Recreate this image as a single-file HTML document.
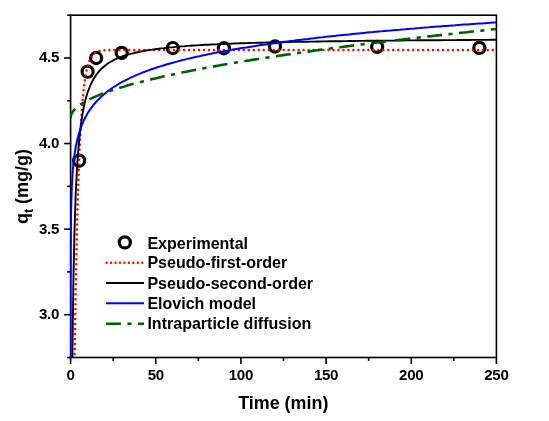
<!DOCTYPE html>
<html><head><meta charset="utf-8"><title>Kinetic models</title>
<style>html,body{margin:0;padding:0;background:#fff}svg{display:block}</style></head>
<body>
<svg width="549" height="421" viewBox="0 0 549 421">
<rect width="549" height="421" fill="#fff"/>
<defs><clipPath id="c"><rect x="70.1" y="15.2" width="426.79999999999995" height="342.3"/></clipPath></defs>
<rect x="70.6" y="15.2" width="425.79999999999995" height="342.3" fill="none" stroke="#000" stroke-width="1.6"/>
<g stroke="#000" stroke-width="1.6">
<line x1="70.60" y1="357.5" x2="70.60" y2="364.0"/>
<line x1="113.18" y1="357.5" x2="113.18" y2="360.9"/>
<line x1="155.76" y1="357.5" x2="155.76" y2="364.0"/>
<line x1="198.34" y1="357.5" x2="198.34" y2="360.9"/>
<line x1="240.92" y1="357.5" x2="240.92" y2="364.0"/>
<line x1="283.50" y1="357.5" x2="283.50" y2="360.9"/>
<line x1="326.08" y1="357.5" x2="326.08" y2="364.0"/>
<line x1="368.66" y1="357.5" x2="368.66" y2="360.9"/>
<line x1="411.24" y1="357.5" x2="411.24" y2="364.0"/>
<line x1="453.82" y1="357.5" x2="453.82" y2="360.9"/>
<line x1="496.40" y1="357.5" x2="496.40" y2="364.0"/>
<line x1="70.6" y1="357.50" x2="67.19999999999999" y2="357.50"/>
<line x1="70.6" y1="314.71" x2="64.1" y2="314.71"/>
<line x1="70.6" y1="271.93" x2="67.19999999999999" y2="271.93"/>
<line x1="70.6" y1="229.14" x2="64.1" y2="229.14"/>
<line x1="70.6" y1="186.35" x2="67.19999999999999" y2="186.35"/>
<line x1="70.6" y1="143.56" x2="64.1" y2="143.56"/>
<line x1="70.6" y1="100.77" x2="67.19999999999999" y2="100.77"/>
<line x1="70.6" y1="57.99" x2="64.1" y2="57.99"/>
<line x1="70.6" y1="15.20" x2="67.19999999999999" y2="15.20"/>
</g>
<g fill="none" stroke="#000" stroke-width="3.2">
<circle cx="79.12" cy="160.68" r="5.55"/>
<circle cx="87.63" cy="71.68" r="5.55"/>
<circle cx="96.15" cy="57.99" r="5.55"/>
<circle cx="121.70" cy="52.85" r="5.55"/>
<circle cx="172.79" cy="48.06" r="5.55"/>
<circle cx="223.89" cy="48.23" r="5.55"/>
<circle cx="274.98" cy="46.52" r="5.55"/>
<circle cx="377.18" cy="46.86" r="5.55"/>
<circle cx="479.37" cy="47.89" r="5.55"/>
</g>
<g clip-path="url(#c)" fill="none" stroke-linecap="butt" stroke-linejoin="round">
<path d="M74.0,383.2 L74.3,381.7 L74.7,352.9 L75.2,323.9 L75.6,295.0 L76.2,266.6 L76.8,239.0 L77.4,212.5 L78.2,187.5 L79.0,164.2 L79.9,143.1 L80.9,124.2 L82.0,107.7 L83.2,93.7 L84.5,82.2 L86.0,72.9 L87.6,65.7 L90.6,58.0 L93.5,54.0 L96.5,52.0 L99.4,51.0 L102.3,50.5 L105.3,50.2 L108.2,50.1 L111.2,50.0 L114.1,50.0 L117.0,50.0 L120.0,50.0 L122.9,49.9 L125.9,49.9 L128.8,49.9 L131.7,49.9 L134.7,49.9 L137.6,49.9 L140.6,49.9 L143.5,49.9 L146.4,49.9 L149.4,49.9 L152.3,49.9 L155.3,49.9 L158.2,49.9 L161.2,49.9 L164.1,49.9 L167.0,49.9 L170.0,49.9 L172.9,49.9 L175.9,49.9 L178.8,49.9 L181.7,49.9 L184.7,49.9 L187.6,49.9 L190.6,49.9 L193.5,49.9 L196.4,49.9 L199.4,49.9 L202.3,49.9 L205.3,49.9 L208.2,49.9 L211.1,49.9 L214.1,49.9 L217.0,49.9 L220.0,49.9 L222.9,49.9 L225.8,49.9 L228.8,49.9 L231.7,49.9 L234.7,49.9 L237.6,49.9 L240.6,49.9 L243.5,49.9 L246.4,49.9 L249.4,49.9 L252.3,49.9 L255.3,49.9 L258.2,49.9 L261.1,49.9 L264.1,49.9 L267.0,49.9 L270.0,49.9 L272.9,49.9 L275.8,49.9 L278.8,49.9 L281.7,49.9 L284.7,49.9 L287.6,49.9 L290.5,49.9 L293.5,49.9 L296.4,49.9 L299.4,49.9 L302.3,49.9 L305.2,49.9 L308.2,49.9 L311.1,49.9 L314.1,49.9 L317.0,49.9 L320.0,49.9 L322.9,49.9 L325.8,49.9 L328.8,49.9 L331.7,49.9 L334.7,49.9 L337.6,49.9 L340.5,49.9 L343.5,49.9 L346.4,49.9 L349.4,49.9 L352.3,49.9 L355.2,49.9 L358.2,49.9 L361.1,49.9 L364.1,49.9 L367.0,49.9 L369.9,49.9 L372.9,49.9 L375.8,49.9 L378.8,49.9 L381.7,49.9 L384.7,49.9 L387.6,49.9 L390.5,49.9 L393.5,49.9 L396.4,49.9 L399.4,49.9 L402.3,49.9 L405.2,49.9 L408.2,49.9 L411.1,49.9 L414.1,49.9 L417.0,49.9 L419.9,49.9 L422.9,49.9 L425.8,49.9 L428.8,49.9 L431.7,49.9 L434.6,49.9 L437.6,49.9 L440.5,49.9 L443.5,49.9 L446.4,49.9 L449.3,49.9 L452.3,49.9 L455.2,49.9 L458.2,49.9 L461.1,49.9 L464.1,49.9 L467.0,49.9 L469.9,49.9 L472.9,49.9 L475.8,49.9 L478.8,49.9 L481.7,49.9 L484.6,49.9 L487.6,49.9 L490.5,49.9 L493.5,49.9 L496.4,49.9" stroke="#ff0000" stroke-width="2.5" stroke-dasharray="0 4.98" stroke-linecap="round" stroke-dashoffset="-4.4"/>
<path d="M72.1,383.2 L72.3,381.0 L72.4,361.4 L72.6,342.2 L72.8,323.5 L73.1,305.2 L73.3,287.6 L73.6,270.6 L74.0,254.3 L74.3,238.7 L74.7,223.9 L75.2,209.8 L75.6,196.5 L76.2,184.0 L76.8,172.3 L77.4,161.4 L78.2,151.1 L79.0,141.6 L79.9,132.8 L80.9,124.6 L82.0,117.1 L83.2,110.1 L84.5,103.7 L86.0,97.8 L87.6,92.4 L90.6,84.8 L93.5,79.0 L96.5,74.5 L99.4,70.9 L102.3,67.9 L105.3,65.4 L108.2,63.3 L111.2,61.5 L114.1,59.9 L117.0,58.5 L120.0,57.3 L122.9,56.2 L125.9,55.2 L128.8,54.3 L131.7,53.6 L134.7,52.8 L137.6,52.2 L140.6,51.6 L143.5,51.0 L146.4,50.5 L149.4,50.0 L152.3,49.6 L155.3,49.1 L158.2,48.8 L161.2,48.4 L164.1,48.1 L167.0,47.7 L170.0,47.4 L172.9,47.2 L175.9,46.9 L178.8,46.6 L181.7,46.4 L184.7,46.2 L187.6,45.9 L190.6,45.7 L193.5,45.5 L196.4,45.4 L199.4,45.2 L202.3,45.0 L205.3,44.8 L208.2,44.7 L211.1,44.5 L214.1,44.4 L217.0,44.3 L220.0,44.1 L222.9,44.0 L225.8,43.9 L228.8,43.8 L231.7,43.6 L234.7,43.5 L237.6,43.4 L240.6,43.3 L243.5,43.2 L246.4,43.1 L249.4,43.0 L252.3,42.9 L255.3,42.9 L258.2,42.8 L261.1,42.7 L264.1,42.6 L267.0,42.5 L270.0,42.5 L272.9,42.4 L275.8,42.3 L278.8,42.2 L281.7,42.2 L284.7,42.1 L287.6,42.1 L290.5,42.0 L293.5,41.9 L296.4,41.9 L299.4,41.8 L302.3,41.8 L305.2,41.7 L308.2,41.7 L311.1,41.6 L314.1,41.6 L317.0,41.5 L320.0,41.5 L322.9,41.4 L325.8,41.4 L328.8,41.3 L331.7,41.3 L334.7,41.2 L337.6,41.2 L340.5,41.2 L343.5,41.1 L346.4,41.1 L349.4,41.0 L352.3,41.0 L355.2,41.0 L358.2,40.9 L361.1,40.9 L364.1,40.9 L367.0,40.8 L369.9,40.8 L372.9,40.8 L375.8,40.7 L378.8,40.7 L381.7,40.7 L384.7,40.6 L387.6,40.6 L390.5,40.6 L393.5,40.6 L396.4,40.5 L399.4,40.5 L402.3,40.5 L405.2,40.4 L408.2,40.4 L411.1,40.4 L414.1,40.4 L417.0,40.3 L419.9,40.3 L422.9,40.3 L425.8,40.3 L428.8,40.2 L431.7,40.2 L434.6,40.2 L437.6,40.2 L440.5,40.2 L443.5,40.1 L446.4,40.1 L449.3,40.1 L452.3,40.1 L455.2,40.1 L458.2,40.0 L461.1,40.0 L464.1,40.0 L467.0,40.0 L469.9,40.0 L472.9,39.9 L475.8,39.9 L478.8,39.9 L481.7,39.9 L484.6,39.9 L487.6,39.9 L490.5,39.8 L493.5,39.8 L496.4,39.8" stroke="#000" stroke-width="1.9"/>
<path d="M70.6,383.2 L70.6,382.4 L70.6,379.5 L70.6,376.7 L70.6,373.8 L70.6,370.9 L70.6,368.1 L70.6,365.2 L70.6,362.3 L70.6,359.5 L70.6,356.6 L70.6,353.8 L70.6,350.9 L70.6,348.0 L70.6,345.2 L70.6,342.3 L70.6,339.4 L70.6,336.6 L70.6,333.7 L70.6,330.9 L70.6,328.0 L70.6,325.1 L70.6,322.3 L70.6,319.4 L70.6,316.5 L70.6,313.7 L70.6,310.8 L70.6,308.0 L70.6,305.1 L70.6,302.2 L70.6,299.4 L70.6,296.5 L70.6,293.6 L70.6,290.8 L70.6,287.9 L70.6,285.1 L70.6,282.2 L70.6,279.3 L70.7,276.5 L70.7,273.6 L70.7,270.7 L70.7,267.9 L70.7,265.0 L70.7,262.1 L70.7,259.3 L70.7,256.4 L70.7,253.6 L70.7,250.7 L70.7,247.8 L70.8,245.0 L70.8,242.1 L70.8,239.2 L70.8,236.4 L70.8,233.5 L70.9,230.7 L70.9,227.8 L70.9,224.9 L71.0,222.1 L71.0,219.2 L71.0,216.3 L71.1,213.5 L71.1,210.6 L71.2,207.8 L71.3,204.9 L71.3,202.0 L71.4,199.2 L71.5,196.3 L71.6,193.4 L71.7,190.6 L71.8,187.7 L72.0,184.9 L72.1,182.0 L72.3,179.1 L72.4,176.3 L72.6,173.4 L72.8,170.5 L73.1,167.7 L73.3,164.8 L73.6,162.0 L74.0,159.1 L74.3,156.2 L74.7,153.4 L75.2,150.5 L75.6,147.6 L76.2,144.8 L76.8,141.9 L77.4,139.1 L78.2,136.2 L79.0,133.3 L79.9,130.5 L80.9,127.6 L82.0,124.7 L83.2,121.9 L84.5,119.0 L86.0,116.2 L87.6,113.3 L90.6,108.8 L93.5,104.9 L96.5,101.5 L99.4,98.5 L102.3,95.7 L105.3,93.2 L108.2,90.9 L111.2,88.8 L114.1,86.8 L117.0,85.0 L120.0,83.2 L122.9,81.6 L125.9,80.1 L128.8,78.6 L131.7,77.2 L134.7,75.9 L137.6,74.6 L140.6,73.4 L143.5,72.2 L146.4,71.1 L149.4,70.0 L152.3,69.0 L155.3,68.0 L158.2,67.0 L161.2,66.1 L164.1,65.2 L167.0,64.3 L170.0,63.5 L172.9,62.7 L175.9,61.9 L178.8,61.1 L181.7,60.3 L184.7,59.6 L187.6,58.9 L190.6,58.2 L193.5,57.5 L196.4,56.8 L199.4,56.2 L202.3,55.5 L205.3,54.9 L208.2,54.3 L211.1,53.7 L214.1,53.1 L217.0,52.5 L220.0,52.0 L222.9,51.4 L225.8,50.9 L228.8,50.4 L231.7,49.8 L234.7,49.3 L237.6,48.8 L240.6,48.3 L243.5,47.8 L246.4,47.4 L249.4,46.9 L252.3,46.4 L255.3,46.0 L258.2,45.5 L261.1,45.1 L264.1,44.7 L267.0,44.2 L270.0,43.8 L272.9,43.4 L275.8,43.0 L278.8,42.6 L281.7,42.2 L284.7,41.8 L287.6,41.4 L290.5,41.0 L293.5,40.7 L296.4,40.3 L299.4,39.9 L302.3,39.6 L305.2,39.2 L308.2,38.9 L311.1,38.5 L314.1,38.2 L317.0,37.8 L320.0,37.5 L322.9,37.2 L325.8,36.8 L328.8,36.5 L331.7,36.2 L334.7,35.9 L337.6,35.6 L340.5,35.3 L343.5,35.0 L346.4,34.7 L349.4,34.4 L352.3,34.1 L355.2,33.8 L358.2,33.5 L361.1,33.2 L364.1,32.9 L367.0,32.6 L369.9,32.3 L372.9,32.1 L375.8,31.8 L378.8,31.5 L381.7,31.3 L384.7,31.0 L387.6,30.7 L390.5,30.5 L393.5,30.2 L396.4,29.9 L399.4,29.7 L402.3,29.4 L405.2,29.2 L408.2,28.9 L411.1,28.7 L414.1,28.5 L417.0,28.2 L419.9,28.0 L422.9,27.7 L425.8,27.5 L428.8,27.3 L431.7,27.0 L434.6,26.8 L437.6,26.6 L440.5,26.4 L443.5,26.1 L446.4,25.9 L449.3,25.7 L452.3,25.5 L455.2,25.3 L458.2,25.0 L461.1,24.8 L464.1,24.6 L467.0,24.4 L469.9,24.2 L472.9,24.0 L475.8,23.8 L478.8,23.6 L481.7,23.4 L484.6,23.2 L487.6,23.0 L490.5,22.8 L493.5,22.6 L496.4,22.4" stroke="#0000ff" stroke-width="2.0"/>
<path d="M70.6,118.1 L70.6,118.1 L70.6,118.1 L70.6,118.1 L70.6,118.1 L70.6,118.1 L70.6,118.1 L70.6,118.1 L70.6,118.1 L70.6,118.1 L70.6,118.1 L70.6,118.1 L70.6,118.1 L70.6,118.1 L70.6,118.1 L70.6,118.0 L70.6,118.0 L70.6,118.0 L70.6,118.0 L70.6,118.0 L70.6,118.0 L70.6,118.0 L70.6,118.0 L70.6,118.0 L70.6,118.0 L70.6,118.0 L70.6,118.0 L70.6,118.0 L70.6,118.0 L70.6,118.0 L70.6,118.0 L70.6,118.0 L70.6,118.0 L70.6,118.0 L70.6,118.0 L70.6,118.0 L70.6,118.0 L70.6,118.0 L70.6,118.0 L70.6,118.0 L70.6,118.0 L70.6,118.0 L70.6,118.0 L70.6,118.0 L70.6,118.0 L70.6,118.0 L70.6,118.0 L70.6,118.0 L70.6,118.0 L70.6,118.0 L70.6,118.0 L70.6,118.0 L70.6,118.0 L70.6,118.0 L70.6,118.0 L70.6,118.0 L70.6,118.0 L70.6,118.0 L70.6,118.0 L70.6,118.0 L70.6,117.9 L70.6,117.9 L70.6,117.9 L70.6,117.9 L70.6,117.9 L70.6,117.9 L70.6,117.9 L70.6,117.9 L70.6,117.9 L70.6,117.9 L70.6,117.9 L70.6,117.9 L70.6,117.9 L70.6,117.8 L70.6,117.8 L70.6,117.8 L70.6,117.8 L70.6,117.8 L70.6,117.8 L70.6,117.8 L70.6,117.8 L70.6,117.7 L70.6,117.7 L70.6,117.7 L70.6,117.7 L70.6,117.7 L70.6,117.6 L70.6,117.6 L70.6,117.6 L70.6,117.6 L70.6,117.5 L70.6,117.5 L70.6,117.5 L70.6,117.5 L70.6,117.4 L70.6,117.4 L70.6,117.4 L70.6,117.3 L70.6,117.3 L70.6,117.3 L70.6,117.2 L70.6,117.2 L70.6,117.1 L70.7,117.1 L70.7,117.0 L70.7,117.0 L70.7,116.9 L70.7,116.8 L70.7,116.8 L70.7,116.7 L70.7,116.6 L70.7,116.6 L70.7,116.5 L70.7,116.4 L70.8,116.3 L70.8,116.2 L70.8,116.1 L70.8,116.0 L70.8,115.9 L70.9,115.8 L70.9,115.7 L70.9,115.6 L71.0,115.5 L71.0,115.3 L71.0,115.2 L71.1,115.0 L71.1,114.9 L71.2,114.7 L71.3,114.5 L71.3,114.4 L71.4,114.2 L71.5,114.0 L71.6,113.8 L71.7,113.5 L71.8,113.3 L72.0,113.0 L72.1,112.8 L72.3,112.5 L72.4,112.2 L72.6,111.9 L72.8,111.6 L73.1,111.3 L73.3,110.9 L73.6,110.5 L74.0,110.1 L74.3,109.7 L74.7,109.3 L75.2,108.8 L75.6,108.4 L76.2,107.9 L76.8,107.3 L77.4,106.8 L78.2,106.2 L79.0,105.6 L79.9,104.9 L80.9,104.2 L82.0,103.5 L83.2,102.8 L84.5,102.0 L86.0,101.1 L87.6,100.3 L90.6,98.8 L93.5,97.4 L96.5,96.1 L99.4,94.9 L102.3,93.8 L105.3,92.7 L108.2,91.6 L111.2,90.6 L114.1,89.6 L117.0,88.7 L120.0,87.7 L122.9,86.9 L125.9,86.0 L128.8,85.1 L131.7,84.3 L134.7,83.5 L137.6,82.7 L140.6,82.0 L143.5,81.2 L146.4,80.5 L149.4,79.8 L152.3,79.1 L155.3,78.4 L158.2,77.7 L161.2,77.0 L164.1,76.3 L167.0,75.7 L170.0,75.1 L172.9,74.4 L175.9,73.8 L178.8,73.2 L181.7,72.6 L184.7,72.0 L187.6,71.4 L190.6,70.8 L193.5,70.2 L196.4,69.7 L199.4,69.1 L202.3,68.5 L205.3,68.0 L208.2,67.4 L211.1,66.9 L214.1,66.4 L217.0,65.9 L220.0,65.3 L222.9,64.8 L225.8,64.3 L228.8,63.8 L231.7,63.3 L234.7,62.8 L237.6,62.3 L240.6,61.8 L243.5,61.3 L246.4,60.8 L249.4,60.4 L252.3,59.9 L255.3,59.4 L258.2,59.0 L261.1,58.5 L264.1,58.0 L267.0,57.6 L270.0,57.1 L272.9,56.7 L275.8,56.2 L278.8,55.8 L281.7,55.4 L284.7,54.9 L287.6,54.5 L290.5,54.1 L293.5,53.6 L296.4,53.2 L299.4,52.8 L302.3,52.4 L305.2,52.0 L308.2,51.6 L311.1,51.1 L314.1,50.7 L317.0,50.3 L320.0,49.9 L322.9,49.5 L325.8,49.1 L328.8,48.7 L331.7,48.3 L334.7,47.9 L337.6,47.6 L340.5,47.2 L343.5,46.8 L346.4,46.4 L349.4,46.0 L352.3,45.6 L355.2,45.3 L358.2,44.9 L361.1,44.5 L364.1,44.1 L367.0,43.8 L369.9,43.4 L372.9,43.0 L375.8,42.7 L378.8,42.3 L381.7,42.0 L384.7,41.6 L387.6,41.2 L390.0,41.0" stroke="#006000" stroke-width="2.6" stroke-dasharray="15 6.4 4.2 6.4" stroke-dashoffset="4"/>
<path d="M395.4,40.3 L396.4,40.2 L399.4,39.8 L402.3,39.5 L405.2,39.1 L408.2,38.8 L411.1,38.4 L414.1,38.1 L417.0,37.8 L419.9,37.4 L422.9,37.1 L425.8,36.7 L428.8,36.4 L431.7,36.1 L434.6,35.7 L437.6,35.4 L440.5,35.1 L443.5,34.7 L446.4,34.4 L449.3,34.1 L452.3,33.8 L455.2,33.4 L458.2,33.1 L461.1,32.8 L464.1,32.5 L467.0,32.2 L469.9,31.8 L472.9,31.5 L475.8,31.2 L478.8,30.9 L481.7,30.6 L484.6,30.3 L487.6,30.0 L490.5,29.6 L493.5,29.3 L496.4,29.0" stroke="#006000" stroke-width="2.6" stroke-dasharray="15 6.4 4.2 6.4"/>
</g>
<g font-family="'Liberation Sans', Arial, sans-serif" font-weight="bold" fill="#000">
<g font-size="15.1" text-anchor="middle" letter-spacing="-0.3">
<text x="70.60" y="380">0</text>
<text x="155.76" y="380">50</text>
<text x="240.92" y="380">100</text>
<text x="326.08" y="380">150</text>
<text x="411.24" y="380">200</text>
<text x="496.40" y="380">250</text>
</g>
<g font-size="15.1" text-anchor="end" letter-spacing="-0.25">
<text x="59.2" y="319.21">3.0</text>
<text x="59.2" y="233.64">3.5</text>
<text x="59.2" y="148.06">4.0</text>
<text x="59.2" y="62.49">4.5</text>
</g>
<text x="283.3" y="408.5" font-size="17.9" text-anchor="middle">Time (min)</text>
<text transform="translate(28.1,186.5) rotate(-90) scale(0.95,1)" font-size="19.0" text-anchor="middle">q<tspan font-size="13" dy="4.5">t</tspan><tspan dy="-4.5"> (mg/g)</tspan></text>
<text x="147.4" y="248.5" font-size="16.05">Experimental</text>
<text x="147.4" y="268.3" font-size="16.05">Pseudo-first-order</text>
<text x="147.4" y="288.5" font-size="16.05">Pseudo-second-order</text>
<text x="147.4" y="308.8" font-size="16.05">Elovich model</text>
<text x="147.4" y="329.3" font-size="16.05">Intraparticle diffusion</text>
</g>
<circle cx="124.8" cy="242.4" r="5.55" fill="none" stroke="#000" stroke-width="3.2"/>
<line x1="106.6" x2="144" y1="262.8" y2="262.8" stroke="#ff0000" stroke-width="2.4" stroke-dasharray="0 4.46" stroke-linecap="round"/>
<line x1="106" x2="144" y1="283.0" y2="283.0" stroke="#000" stroke-width="1.9"/>
<line x1="106" x2="144" y1="303.3" y2="303.3" stroke="#0000ff" stroke-width="2.0"/>
<line x1="106" x2="144" y1="323.8" y2="323.8" stroke="#006000" stroke-width="2.6" stroke-dasharray="15 6.4 4.2 6.4"/>
</svg>
</body></html>
